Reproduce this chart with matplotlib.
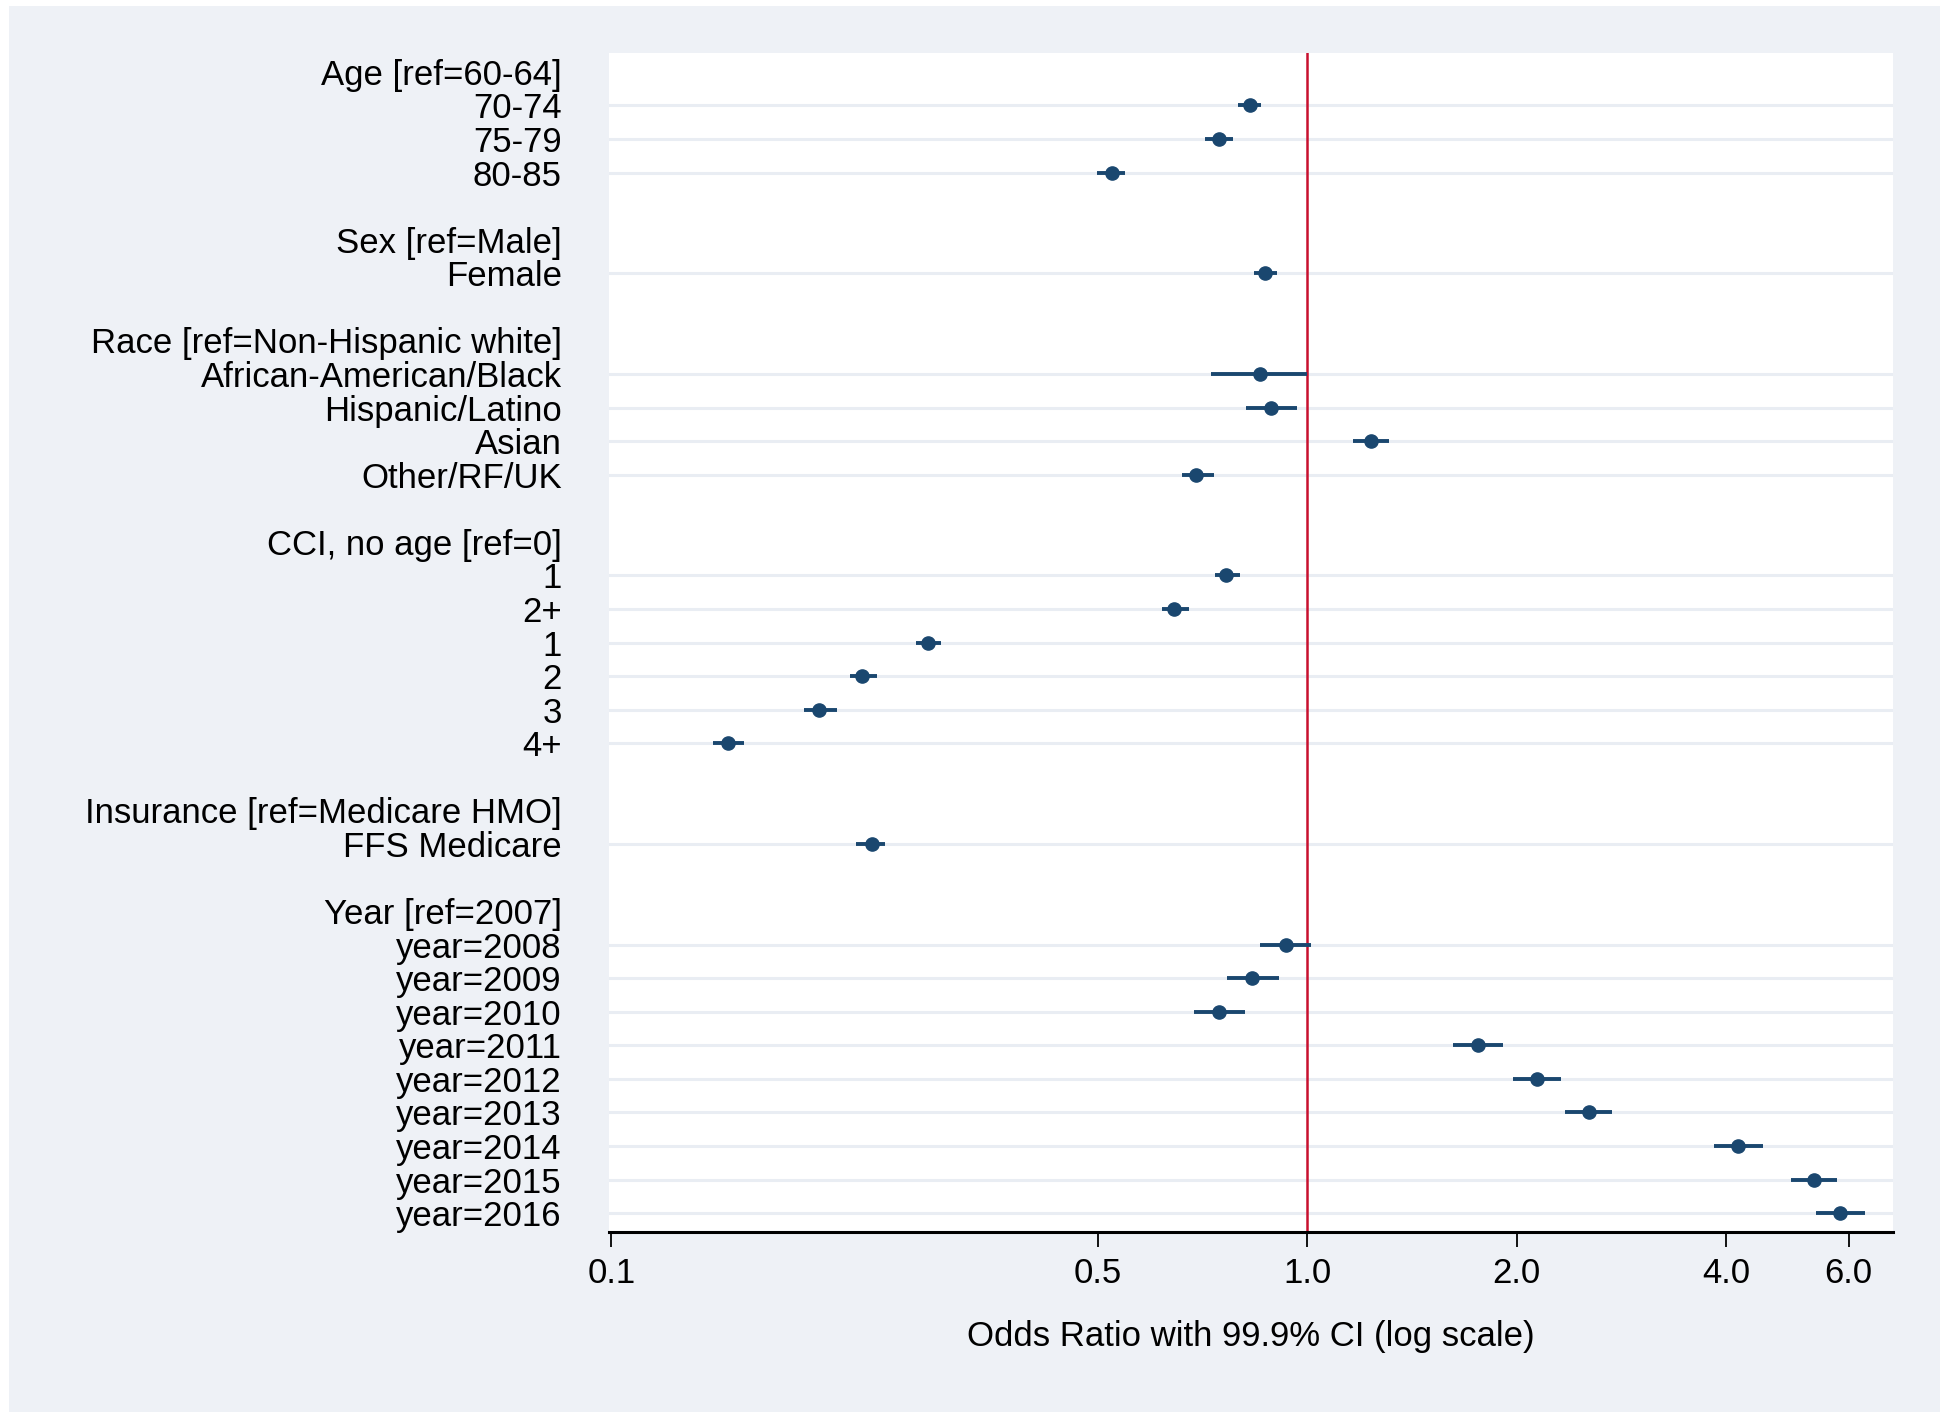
import numpy as np
import matplotlib
matplotlib.use('Agg')
import matplotlib.pyplot as plt
from matplotlib.patches import Rectangle

plt.rcParams['font.family'] = ['Liberation Sans', 'DejaVu Sans']

# row labels, top to bottom ('' rows are blank spacers)
labels = ['Age [ref=60-64]', '70-74', '75-79', '80-85', '',
          'Sex [ref=Male]', 'Female', '',
          'Race [ref=Non-Hispanic white]', 'African-American/Black', 'Hispanic/Latino', 'Asian', 'Other/RF/UK', '',
          'CCI, no age [ref=0]', '1', '2+', '1', '2', '3', '4+', '',
          'Insurance [ref=Medicare HMO]', 'FFS Medicare', '',
          'Year [ref=2007]', 'year=2008', 'year=2009', 'year=2010', 'year=2011', 'year=2012',
          'year=2013', 'year=2014', 'year=2015', 'year=2016']

# estimates (None for headers / spacers)
odds = [None, 0.827, 0.746, 0.524, None,
        None, 0.869, None,
        None, 0.855, 0.887, 1.234, 0.693, None,
        None, 0.765, 0.644, 0.285, 0.229, 0.199, 0.147, None,
        None, 0.237, None,
        None, 0.932, 0.834, 0.746, 1.758, 2.142, 2.537, 4.157, 5.35, 5.83]
ci_low = [None, 0.794, 0.713, 0.499, None,
          None, 0.838, None,
          None, 0.728, 0.817, 1.165, 0.660, None,
          None, 0.737, 0.618, 0.274, 0.220, 0.189, 0.140, None,
          None, 0.225, None,
          None, 0.855, 0.768, 0.688, 1.619, 1.973, 2.347, 3.844, 4.95, 5.39]
ci_high = [None, 0.859, 0.781, 0.548, None,
           None, 0.906, None,
           None, 1.000, 0.968, 1.313, 0.734, None,
           None, 0.801, 0.676, 0.298, 0.241, 0.211, 0.155, None,
           None, 0.247, None,
           None, 1.012, 0.910, 0.814, 1.910, 2.318, 2.744, 4.519, 5.78, 6.33]

xticks = [0.1, 0.5, 1.0, 2.0, 4.0, 6.0]

bg = '#EEF1F6'
navy = '#1A476F'
fs = 25

fig = plt.figure(figsize=(19.5, 14.22), dpi=100)
fig.patch.set_facecolor('white')
fig.patches.append(Rectangle((9 / 1950, 1 - 1412 / 1422), 1931 / 1950, 1406 / 1422,
                             transform=fig.transFigure, facecolor=bg, edgecolor='none', zorder=-10))

ax = fig.add_axes([0.3123, 0.1339, 0.9708 - 0.3123, 0.9624 - 0.1339])
ax.set_facecolor('white')

rows = np.arange(len(labels))
for i in rows:
    if odds[i] is None:
        continue
    ax.axhline(i, color='#E9EDF3', lw=2.2, zorder=1)
    ax.plot([ci_low[i], ci_high[i]], [i, i], color=navy, lw=2.8, solid_capstyle='butt', zorder=3)
    ax.plot(odds[i], i, 'o', color=navy, ms=9.5, zorder=4)

ax.axvline(1.0, color='#C8102E', lw=1.8, zorder=2)

ax.set_xscale('log')
ax.set_xlim(0.0992, 6.95)
ax.set_ylim(len(labels) - 1 + 0.55, -0.55)
ax.set_xticks(xticks)
ax.set_xticklabels(['%.1f' % t for t in xticks])
ax.xaxis.set_minor_locator(matplotlib.ticker.NullLocator())
ax.set_yticks(rows)
ax.set_yticklabels(labels)
ax.tick_params(axis='y', length=0, pad=34, labelsize=fs)
ax.tick_params(axis='x', length=11, width=1.3, pad=7, labelsize=fs, direction='out')

for s in ['top', 'right', 'left']:
    ax.spines[s].set_visible(False)
ax.spines['bottom'].set_linewidth(2.2)

ax.set_xlabel('Odds Ratio with 99.9% CI (log scale)', fontsize=fs, labelpad=22)

fig.savefig('out.png', dpi=100, facecolor='white')
